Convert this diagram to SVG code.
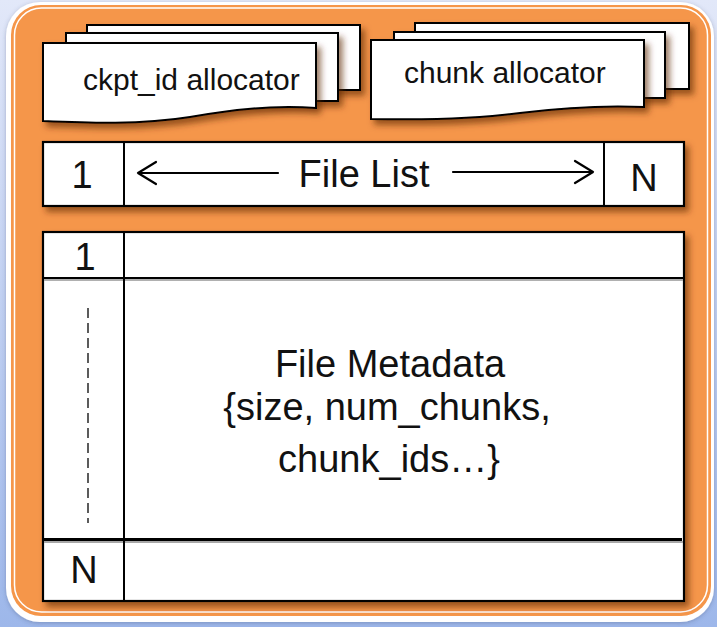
<svg xmlns="http://www.w3.org/2000/svg" width="717" height="627" viewBox="0 0 717 627">
  <defs>
    <linearGradient id="bg" x1="0" y1="0" x2="0" y2="1">
      <stop offset="0" stop-color="#e2e8f9"/>
      <stop offset="1" stop-color="#9db7ea"/>
    </linearGradient>
    <filter id="sh" x="-10%" y="-20%" width="125%" height="150%">
      <feDropShadow dx="4" dy="5" stdDeviation="3" flood-color="#5a2800" flood-opacity="0.6"/>
    </filter>
    <filter id="sh2" x="-20%" y="-20%" width="140%" height="140%">
      <feDropShadow dx="0" dy="1" stdDeviation="2" flood-color="#3a4a70" flood-opacity="0.35"/>
    </filter>
  </defs>
  <style>
    .sheet { fill: #ffffff; stroke: #000000; stroke-width: 2; }
    .box { fill: #ffffff; stroke: #000000; stroke-width: 2.2; }
    .ln { stroke: #000000; stroke-width: 2; fill: none; }
    .t { font-family: "Liberation Sans", Arial, sans-serif; fill: #111111; }
    .small { font-size: 30px; }
    .big { font-size: 38px; }
    .arrow { stroke: #000000; stroke-width: 2.2; fill: none; stroke-linecap: round; stroke-linejoin: round; }
  </style>

  <rect x="0" y="0" width="717" height="627" fill="url(#bg)"/>
  <rect x="6" y="2" width="708" height="620" rx="34" fill="#ffffff" filter="url(#sh2)"/>
  <rect x="11" y="5" width="700" height="611" rx="30" fill="#f5964a"/>
  <rect x="14.5" y="8" width="693" height="604" rx="27" fill="none" stroke="#ffffff" stroke-width="1.5"/>

  <g id="ckpt-allocator">
    <rect class="sheet" x="87" y="25" width="273" height="65" filter="url(#sh)"/>
    <rect class="sheet" x="66" y="33" width="272" height="68" filter="url(#sh)"/>
    <path class="sheet" d="M43,43 H316 V108 C270,105 230,110 190,117 C140,125 90,123 43,121 Z" filter="url(#sh)"/>
    <text class="t small" x="83" y="90">ckpt_id allocator</text>
  </g>

  <g id="chunk-allocator">
    <rect class="sheet" x="415" y="23" width="274" height="66" filter="url(#sh)"/>
    <rect class="sheet" x="394" y="32" width="271" height="66" filter="url(#sh)"/>
    <path class="sheet" d="M371,40 H644 V107 C600,105 560,108 520,113 C470,120 420,120 371,119 Z" filter="url(#sh)"/>
    <text class="t small" x="404" y="83">chunk allocator</text>
  </g>

  <g id="file-list">
    <rect class="box" x="43" y="142" width="641" height="64" filter="url(#sh)"/>
    <line class="ln" x1="124" y1="142" x2="124" y2="206"/>
    <line class="ln" x1="604" y1="142" x2="604" y2="206"/>
    <text class="t big" x="82" y="188" text-anchor="middle">1</text>
    <text class="t big" x="364" y="187" text-anchor="middle">File List</text>
    <text class="t big" x="644" y="191" text-anchor="middle">N</text>
  </g>

  <g id="connectors">
    <path class="arrow" d="M278,173 H138 M156,162 L138,173 L156,184"/>
    <path class="arrow" d="M453,172 H593 M575,161 L593,172 L575,183"/>
  </g>

  <g id="file-metadata">
    <rect class="box" x="43" y="232" width="641" height="369" filter="url(#sh)"/>
    <line x1="44" y1="280" x2="683" y2="280" stroke="#b0b0b0" stroke-width="2"/>
    <line class="ln" x1="44" y1="278" x2="683" y2="278"/>
    <line x1="44" y1="542" x2="683" y2="542" stroke="#a8a8a8" stroke-width="2"/>
    <line x1="42" y1="539.5" x2="682" y2="539.5" stroke="#000000" stroke-width="3.2"/>
    <line class="ln" x1="124" y1="232" x2="124" y2="601"/>
    <line x1="88" y1="308" x2="88" y2="523" stroke="#333333" stroke-width="1.6" stroke-dasharray="10 5"/>
    <text class="t big" x="85" y="270" text-anchor="middle">1</text>
    <text class="t big" x="84" y="583" text-anchor="middle">N</text>
    <text class="t big" x="390" y="377" text-anchor="middle">File Metadata</text>
    <text class="t big" x="387" y="420" text-anchor="middle">{size, num_chunks,</text>
    <text class="t big" x="389" y="472" text-anchor="middle">chunk_ids…}</text>
  </g>
</svg>
